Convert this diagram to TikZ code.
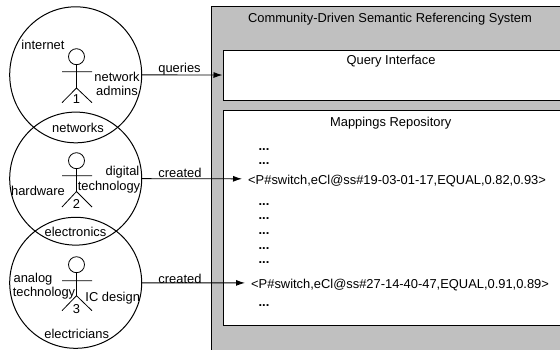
\documentclass[tikz,border=0pt]{standalone}
\usepackage{fontspec}
\setmainfont{Liberation Sans}
\definecolor{panelgray}{HTML}{C0C0C0}
\tikzset{
  every node/.style={font=\fontsize{12.9}{15}\selectfont, inner sep=0pt, text height=13.6pt, text depth=2.7pt},
  community/.style={draw, ellipse, line width=1pt, minimum width=132pt},
  head/.style={draw, circle, line width=0.8pt, minimum size=16pt, text height=0pt, text depth=0pt},
  limb/.style={line width=0.8pt},
  box/.style={draw, line width=1pt, fill=white},
  link/.style={line width=0.9pt, -{Latex[length=9pt,width=6pt]}},
  ellipsis/.style={font=\fontsize{12.9}{15}\selectfont\bfseries}
}
\usetikzlibrary{shapes.geometric,arrows.meta}
\begin{document}
\begin{tikzpicture}[x=1pt,y=-1pt]
  \useasboundingbox (0,0) rectangle (560,349);
  % system
  \node[draw, line width=1pt, fill=panelgray, minimum width=360pt, minimum height=360pt, anchor=north west] (system) at (210.5,6) {};
  \node (title) at (390,16.7) {Community-Driven Semantic Referencing System};
  \node[box, minimum width=345pt, minimum height=50.5pt, anchor=north west] (query) at (222.5,49.5) {};
  \node (querylabel) at (391,59.3) {Query Interface};
  \node[box, minimum width=345pt, minimum height=215pt, anchor=north west] (repository) at (222.5,110) {};
  \node (repositorylabel) at (390.7,120.7) {Mappings Repository};
  \node[anchor=west] (mapping1) at (248,179) {<P\#switch,eCl@ss\#19-03-01-17,EQUAL,0.82,0.93>};
  \node[anchor=west] (mapping2) at (251,283) {<P\#switch,eCl@ss\#27-14-40-47,EQUAL,0.91,0.89>};
  \node[ellipsis] (dots1) at (264,144.8) {...};
  \node[ellipsis] (dots2) at (264,159.2) {...};
  \node[ellipsis] (dots3) at (264,199.8) {...};
  \node[ellipsis] (dots4) at (264,213.8) {...};
  \node[ellipsis] (dots5) at (264,228.8) {...};
  \node[ellipsis] (dots6) at (264,243.8) {...};
  \node[ellipsis] (dots7) at (264,258.2) {...};
  \node[ellipsis] (dots8) at (264,301.5) {...};
  % communities
  \node[community, minimum height=136pt] (community1) at (75.7,74.8) {};
  \node[community, minimum height=133pt] (community2) at (75.7,178.6) {};
  \node[community, minimum height=131pt] (community3) at (75.7,282.8) {};
  % actors
  \node[head] (head1) at (76.5,56.7) {};
  \draw[limb] (head1) -- (76.5,88) -- (62,102.7) (76.5,88) -- (92,102.7) (62,71.7) -- (92,71.7);
  \node[head] (head2) at (76.5,160.7) {};
  \draw[limb] (head2) -- (76.5,191.5) -- (62,207) (76.5,191.5) -- (92,207) (62,175.7) -- (92,175.7);
  \node[head] (head3) at (76.5,264.7) {};
  \draw[limb] (head3) -- (76.5,295.7) -- (62,310.7) (76.5,295.7) -- (92,310.7) (62,280.7) -- (92,280.7);
  % labels
  \node (internet) at (43,44) {internet};
  \node (network) at (117,76) {network};
  \node (admins) at (117,90) {admins};
  \node (num1) at (76.5,98) {1};
  \node (networks) at (78,127) {networks};
  \node (digital) at (122.5,170) {digital};
  \node (digitaltech) at (109,185) {technology};
  \node (hardware) at (38,190) {hardware};
  \node (num2) at (76.5,203) {2};
  \node (electronics) at (75.5,231) {electronics};
  \node (analog) at (33,277) {analog};
  \node (analogtech) at (44,291) {technology};
  \node (icdesign) at (112.7,296) {IC design};
  \node (num3) at (76.5,308) {3};
  \node (electricians) at (76.7,333) {electricians};
  % links
  \draw[link] (community1) -- (query);
  \draw[link, shorten >=6pt] (community2) -- (mapping1);
  \draw[link, shorten >=6pt] (community3) -- (mapping2);
  \node (queries) at (179.5,67.5) {queries};
  \node (created1) at (180,172) {created};
  \node (created2) at (180,278) {created};
\end{tikzpicture}
\end{document}
